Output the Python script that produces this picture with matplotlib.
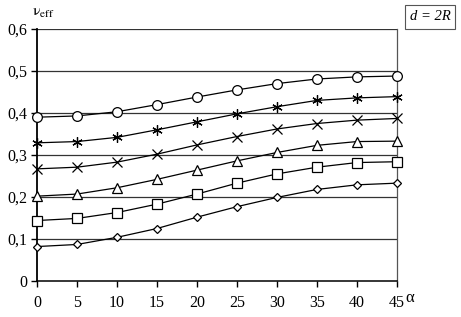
import matplotlib
matplotlib.use("Agg")
import matplotlib.pyplot as plt

alpha = [0, 5, 10, 15, 20, 25, 30, 35, 40, 45]
s_circle = [0.390, 0.393, 0.403, 0.420, 0.438, 0.455, 0.470, 0.481, 0.486, 0.488]
s_star = [0.329, 0.332, 0.342, 0.360, 0.379, 0.398, 0.415, 0.430, 0.436, 0.439]
s_x = [0.267, 0.271, 0.283, 0.302, 0.324, 0.344, 0.362, 0.375, 0.383, 0.387]
s_tri = [0.202, 0.207, 0.222, 0.242, 0.264, 0.286, 0.306, 0.323, 0.332, 0.333]
s_sq = [0.144, 0.149, 0.163, 0.183, 0.207, 0.233, 0.255, 0.271, 0.282, 0.284]
s_dia = [0.082, 0.087, 0.104, 0.125, 0.152, 0.177, 0.199, 0.218, 0.229, 0.233]
yticks = [0, 0.1, 0.2, 0.3, 0.4, 0.5, 0.6]
ylabels = ["0", "0,1", "0,2", "0,3", "0,4", "0,5", "0,6"]
xticks = [0, 5, 10, 15, 20, 25, 30, 35, 40, 45]

plt.rcParams['font.family'] = ['Liberation Serif', 'DejaVu Serif']
plt.rcParams['mathtext.fontset'] = 'stix'

fig = plt.figure(figsize=(4.61, 3.17), dpi=100)
ax = fig.add_axes([37/461, 36/317, 360/461, 252/317])

for yv in yticks[1:]:
    ax.axhline(yv, color='#333333', lw=0.9, zorder=1)

series = [
    (s_circle, dict(marker='o', ms=7, mfc='white')),
    (s_star, dict(marker=(6, 2, 0), ms=7.5)),
    (s_x, dict(marker='x', ms=6.5)),
    (s_tri, dict(marker='^', ms=6.5, mfc='white')),
    (s_sq, dict(marker='s', ms=6.5, mfc='white')),
    (s_dia, dict(marker='D', ms=4.5, mfc='white')),
]
for vals, kw in series:
    ax.plot(alpha, vals, color='black', lw=0.9, mec='black', mew=0.9,
            zorder=3, clip_on=False, **kw)

ax.set_xlim(0, 45)
ax.set_ylim(0, 0.6)
ax.set_xticks(xticks)
ax.set_xticklabels([str(v) for v in xticks])
ax.set_yticks(yticks)
ax.set_yticklabels(ylabels)
ax.tick_params(axis='both', labelsize=11.5, direction='out', length=4,
               width=1, color='black', pad=3)
ax.tick_params(axis='x', pad=6)
for side in ['top']:
    ax.spines[side].set_visible(False)
ax.spines['right'].set_color('#555555')
ax.spines['right'].set_linewidth(0.9)
ax.spines['left'].set_linewidth(1.3)
ax.spines['bottom'].set_linewidth(1.1)

fig.text(32/461, 1 - 12/317, r'$\mathrm{\nu}_{\mathrm{eff}}$', fontsize=11.5,
         ha='left', va='center')
fig.text(410/461, 1 - 298/317, 'α', fontsize=12, ha='center', va='center')
fig.text(430/461, 1 - 17/317, 'd = 2R', fontsize=10.5, style='italic',
         ha='center', va='center',
         bbox=dict(boxstyle='square,pad=0.35', fc='white', ec='#555555', lw=0.8))

fig.savefig('out.png', dpi=100)
